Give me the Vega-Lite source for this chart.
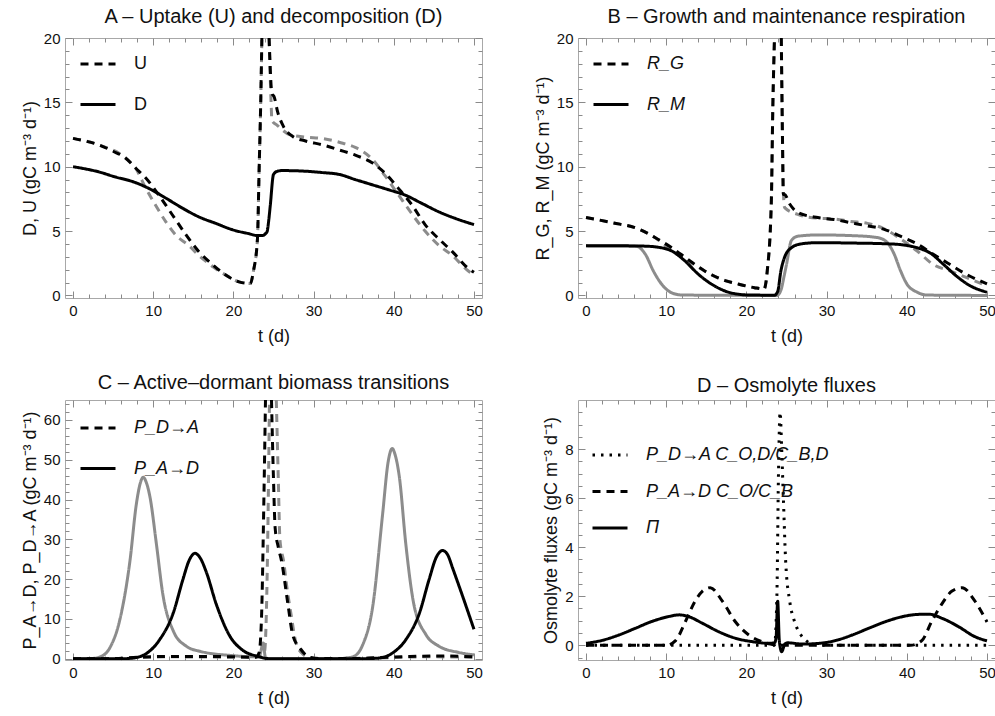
{
  "$schema": "https://vega.github.io/schema/vega-lite/v6.json",
  "background": "white",
  "padding": {"left": 20, "top": 6, "right": 0, "bottom": 0},
  "resolve": {"scale": {"strokeDash": "independent"}, "legend": {"strokeDash": "independent"}},
  "config": {
    "font": "Liberation Sans",
    "view": {"stroke": "#a8a8a8", "strokeWidth": 1},
    "axis": {"labelFontSize": 15, "titleFontSize": 18, "titleFontWeight": "normal", "labelColor": "#111", "titleColor": "#111", "grid": false, "domain": false, "tickColor": "#8a8a8a", "tickWidth": 1, "labelFlush": false, "labelOverlap": false, "labelPadding": 12},
    "axisX": {"titlePadding": 6},
    "axisY": {"titlePadding": 4},
    "line": {"interpolate": "monotone", "strokeWidth": 3},
    "title": {"fontSize": 20, "fontWeight": "normal", "anchor": "middle", "frame": "group", "offset": 4, "color": "#111"},
    "legend": {"symbolType": "stroke", "symbolSize": 1225, "symbolStrokeWidth": 3, "symbolStrokeColor": "black", "labelFontSize": 18, "labelOffset": 17, "rowPadding": 12.5, "padding": 0, "labelColor": "#111", "labelLimit": 400}
  },
  "datasets": {
    "A": [
      {"t":0,"v":12.2,"var":"U","case":"1","seg":"a"},{"t":1.5,"v":12.0,"var":"U","case":"1","seg":"a"},{"t":3.2,"v":11.7,"var":"U","case":"1","seg":"a"},{"t":5,"v":11.2,"var":"U","case":"1","seg":"a"},{"t":6.5,"v":10.7,"var":"U","case":"1","seg":"a"},{"t":7.8,"v":9.9,"var":"U","case":"1","seg":"a"},{"t":9.1,"v":9.1,"var":"U","case":"1","seg":"a"},{"t":10.7,"v":7.8,"var":"U","case":"1","seg":"a"},{"t":12.4,"v":6.25,"var":"U","case":"1","seg":"a"},{"t":14.1,"v":4.7,"var":"U","case":"1","seg":"a"},{"t":15.7,"v":3.4,"var":"U","case":"1","seg":"a"},{"t":17.4,"v":2.4,"var":"U","case":"1","seg":"a"},{"t":19,"v":1.6,"var":"U","case":"1","seg":"a"},{"t":20.7,"v":1.05,"var":"U","case":"1","seg":"a"},{"t":22.1,"v":0.93,"var":"U","case":"1","seg":"a"},{"t":22.5,"v":1.9,"var":"U","case":"1","seg":"a"},{"t":23,"v":4.4,"var":"U","case":"1","seg":"a"},{"t":23.2,"v":9.6,"var":"U","case":"1","seg":"a"},{"t":23.4,"v":14.8,"var":"U","case":"1","seg":"a"},{"t":23.55,"v":20,"var":"U","case":"1","seg":"a"},
      {"t":24.45,"v":20,"var":"U","case":"1","seg":"b"},{"t":24.8,"v":15.7,"var":"U","case":"1","seg":"b"},{"t":25.1,"v":15.4,"var":"U","case":"1","seg":"b"},{"t":25.5,"v":14.3,"var":"U","case":"1","seg":"b"},{"t":26.1,"v":13.3,"var":"U","case":"1","seg":"b"},{"t":27.4,"v":12.35,"var":"U","case":"1","seg":"b"},{"t":29,"v":12.0,"var":"U","case":"1","seg":"b"},{"t":31.1,"v":11.7,"var":"U","case":"1","seg":"b"},{"t":33.2,"v":11.3,"var":"U","case":"1","seg":"b"},{"t":35.2,"v":10.9,"var":"U","case":"1","seg":"b"},{"t":37.3,"v":10.3,"var":"U","case":"1","seg":"b"},{"t":38.9,"v":9.5,"var":"U","case":"1","seg":"b"},{"t":40.6,"v":8.3,"var":"U","case":"1","seg":"b"},{"t":42.3,"v":7.0,"var":"U","case":"1","seg":"b"},{"t":43.9,"v":5.5,"var":"U","case":"1","seg":"b"},{"t":45.6,"v":4.4,"var":"U","case":"1","seg":"b"},{"t":47.3,"v":3.4,"var":"U","case":"1","seg":"b"},{"t":49.3,"v":2.1,"var":"U","case":"1","seg":"b"},{"t":50,"v":1.8,"var":"U","case":"1","seg":"b"},
      {"t":0,"v":12.2,"var":"U","case":"2","seg":"a"},{"t":3.2,"v":11.7,"var":"U","case":"2","seg":"a"},{"t":6.5,"v":10.7,"var":"U","case":"2","seg":"a"},{"t":7.8,"v":9.9,"var":"U","case":"2","seg":"a"},{"t":9.1,"v":8.3,"var":"U","case":"2","seg":"a"},{"t":10.3,"v":7.0,"var":"U","case":"2","seg":"a"},{"t":11.6,"v":5.7,"var":"U","case":"2","seg":"a"},{"t":12.8,"v":4.7,"var":"U","case":"2","seg":"a"},{"t":14.4,"v":3.9,"var":"U","case":"2","seg":"a"},{"t":15.7,"v":3.1,"var":"U","case":"2","seg":"a"},{"t":16.9,"v":2.5,"var":"U","case":"2","seg":"a"},{"t":17.5,"v":2.2,"var":"U","case":"2","seg":"a"},{"t":19,"v":1.6,"var":"U","case":"2","seg":"a"},{"t":20.7,"v":1.05,"var":"U","case":"2","seg":"a"},{"t":22.1,"v":0.93,"var":"U","case":"2","seg":"a"},{"t":22.5,"v":1.9,"var":"U","case":"2","seg":"a"},{"t":23,"v":4.4,"var":"U","case":"2","seg":"a"},{"t":23.2,"v":9.6,"var":"U","case":"2","seg":"a"},{"t":23.4,"v":14.8,"var":"U","case":"2","seg":"a"},{"t":23.55,"v":20,"var":"U","case":"2","seg":"a"},
      {"t":24.45,"v":20,"var":"U","case":"2","seg":"b"},{"t":24.7,"v":15,"var":"U","case":"2","seg":"b"},{"t":24.8,"v":13.6,"var":"U","case":"2","seg":"b"},{"t":25.5,"v":13.2,"var":"U","case":"2","seg":"b"},{"t":27,"v":12.5,"var":"U","case":"2","seg":"b"},{"t":29,"v":12.3,"var":"U","case":"2","seg":"b"},{"t":31.1,"v":12.2,"var":"U","case":"2","seg":"b"},{"t":33.2,"v":11.9,"var":"U","case":"2","seg":"b"},{"t":35.2,"v":11.5,"var":"U","case":"2","seg":"b"},{"t":37.3,"v":10.6,"var":"U","case":"2","seg":"b"},{"t":38.9,"v":9.3,"var":"U","case":"2","seg":"b"},{"t":40.6,"v":7.8,"var":"U","case":"2","seg":"b"},{"t":42.3,"v":6.3,"var":"U","case":"2","seg":"b"},{"t":43.9,"v":5.0,"var":"U","case":"2","seg":"b"},{"t":45.6,"v":3.9,"var":"U","case":"2","seg":"b"},{"t":47.3,"v":3.1,"var":"U","case":"2","seg":"b"},{"t":49.3,"v":1.9,"var":"U","case":"2","seg":"b"},{"t":50,"v":1.6,"var":"U","case":"2","seg":"b"},
      {"t":0,"v":10.0,"var":"D","case":"1","seg":"a"},{"t":3.2,"v":9.6,"var":"D","case":"1","seg":"a"},{"t":5.3,"v":9.2,"var":"D","case":"1","seg":"a"},{"t":7.4,"v":8.85,"var":"D","case":"1","seg":"a"},{"t":9.5,"v":8.3,"var":"D","case":"1","seg":"a"},{"t":11.6,"v":7.55,"var":"D","case":"1","seg":"a"},{"t":13.6,"v":6.8,"var":"D","case":"1","seg":"a"},{"t":15.7,"v":6.1,"var":"D","case":"1","seg":"a"},{"t":17.8,"v":5.6,"var":"D","case":"1","seg":"a"},{"t":19.9,"v":5.1,"var":"D","case":"1","seg":"a"},{"t":21.9,"v":4.8,"var":"D","case":"1","seg":"a"},{"t":23.0,"v":4.65,"var":"D","case":"1","seg":"a"},{"t":23.6,"v":4.65,"var":"D","case":"1","seg":"a"},{"t":24.0,"v":4.8,"var":"D","case":"1","seg":"a"},{"t":24.2,"v":4.95,"var":"D","case":"1","seg":"a"},{"t":24.4,"v":5.8,"var":"D","case":"1","seg":"a"},{"t":24.6,"v":7.0,"var":"D","case":"1","seg":"a"},{"t":25.0,"v":9.4,"var":"D","case":"1","seg":"a"},{"t":25.5,"v":9.65,"var":"D","case":"1","seg":"a"},{"t":26.1,"v":9.7,"var":"D","case":"1","seg":"a"},{"t":29,"v":9.65,"var":"D","case":"1","seg":"a"},{"t":31,"v":9.55,"var":"D","case":"1","seg":"a"},{"t":33.2,"v":9.4,"var":"D","case":"1","seg":"a"},{"t":35.2,"v":9.0,"var":"D","case":"1","seg":"a"},{"t":37.3,"v":8.6,"var":"D","case":"1","seg":"a"},{"t":39.4,"v":8.2,"var":"D","case":"1","seg":"a"},{"t":41.4,"v":7.8,"var":"D","case":"1","seg":"a"},{"t":43.5,"v":7.15,"var":"D","case":"1","seg":"a"},{"t":45.6,"v":6.5,"var":"D","case":"1","seg":"a"},{"t":47.6,"v":6.0,"var":"D","case":"1","seg":"a"},{"t":50,"v":5.5,"var":"D","case":"1","seg":"a"}
    ],
    "B": [
      {"t":0,"v":6.05,"var":"R_G","case":"1","seg":"a"},{"t":3.3,"v":5.65,"var":"R_G","case":"1","seg":"a"},{"t":6.6,"v":5.15,"var":"R_G","case":"1","seg":"a"},{"t":8.6,"v":4.5,"var":"R_G","case":"1","seg":"a"},{"t":10.7,"v":3.7,"var":"R_G","case":"1","seg":"a"},{"t":12.7,"v":2.8,"var":"R_G","case":"1","seg":"a"},{"t":14.8,"v":1.9,"var":"R_G","case":"1","seg":"a"},{"t":16.9,"v":1.25,"var":"R_G","case":"1","seg":"a"},{"t":18.9,"v":0.9,"var":"R_G","case":"1","seg":"a"},{"t":21,"v":0.6,"var":"R_G","case":"1","seg":"a"},{"t":22.2,"v":0.5,"var":"R_G","case":"1","seg":"a"},{"t":22.6,"v":1.9,"var":"R_G","case":"1","seg":"a"},{"t":23.1,"v":7.1,"var":"R_G","case":"1","seg":"a"},{"t":23.3,"v":14.8,"var":"R_G","case":"1","seg":"a"},{"t":23.5,"v":20,"var":"R_G","case":"1","seg":"a"},
      {"t":24.35,"v":20,"var":"R_G","case":"1","seg":"b"},{"t":24.5,"v":12.2,"var":"R_G","case":"1","seg":"b"},{"t":24.6,"v":7.85,"var":"R_G","case":"1","seg":"b"},{"t":24.75,"v":7.85,"var":"R_G","case":"1","seg":"b"},{"t":25.4,"v":7.1,"var":"R_G","case":"1","seg":"b"},{"t":26.4,"v":6.45,"var":"R_G","case":"1","seg":"b"},{"t":28.9,"v":6.05,"var":"R_G","case":"1","seg":"b"},{"t":30.9,"v":5.9,"var":"R_G","case":"1","seg":"b"},{"t":33,"v":5.65,"var":"R_G","case":"1","seg":"b"},{"t":35.1,"v":5.4,"var":"R_G","case":"1","seg":"b"},{"t":37.1,"v":5.15,"var":"R_G","case":"1","seg":"b"},{"t":39.2,"v":4.6,"var":"R_G","case":"1","seg":"b"},{"t":41.3,"v":4.0,"var":"R_G","case":"1","seg":"b"},{"t":43.3,"v":3.2,"var":"R_G","case":"1","seg":"b"},{"t":45.4,"v":2.4,"var":"R_G","case":"1","seg":"b"},{"t":47.4,"v":1.65,"var":"R_G","case":"1","seg":"b"},{"t":50,"v":0.9,"var":"R_G","case":"1","seg":"b"},
      {"t":0,"v":6.05,"var":"R_G","case":"2","seg":"a"},{"t":3.3,"v":5.65,"var":"R_G","case":"2","seg":"a"},{"t":6.6,"v":5.15,"var":"R_G","case":"2","seg":"a"},{"t":8.6,"v":4.5,"var":"R_G","case":"2","seg":"a"},{"t":10.7,"v":3.45,"var":"R_G","case":"2","seg":"a"},{"t":12.7,"v":2.7,"var":"R_G","case":"2","seg":"a"},{"t":14.8,"v":1.9,"var":"R_G","case":"2","seg":"a"},{"t":16.9,"v":1.25,"var":"R_G","case":"2","seg":"a"},{"t":18.9,"v":0.9,"var":"R_G","case":"2","seg":"a"},{"t":21,"v":0.6,"var":"R_G","case":"2","seg":"a"},{"t":22.2,"v":0.5,"var":"R_G","case":"2","seg":"a"},{"t":22.6,"v":1.9,"var":"R_G","case":"2","seg":"a"},{"t":23.1,"v":7.1,"var":"R_G","case":"2","seg":"a"},{"t":23.3,"v":14.8,"var":"R_G","case":"2","seg":"a"},{"t":23.5,"v":20,"var":"R_G","case":"2","seg":"a"},
      {"t":24.35,"v":20,"var":"R_G","case":"2","seg":"b"},{"t":24.5,"v":12,"var":"R_G","case":"2","seg":"b"},{"t":24.7,"v":7,"var":"R_G","case":"2","seg":"b"},{"t":24.8,"v":6.8,"var":"R_G","case":"2","seg":"b"},{"t":26.4,"v":6.3,"var":"R_G","case":"2","seg":"b"},{"t":28.9,"v":6.0,"var":"R_G","case":"2","seg":"b"},{"t":30.9,"v":5.95,"var":"R_G","case":"2","seg":"b"},{"t":33,"v":5.75,"var":"R_G","case":"2","seg":"b"},{"t":35.1,"v":5.6,"var":"R_G","case":"2","seg":"b"},{"t":37.1,"v":5.2,"var":"R_G","case":"2","seg":"b"},{"t":39.2,"v":4.4,"var":"R_G","case":"2","seg":"b"},{"t":41.3,"v":3.45,"var":"R_G","case":"2","seg":"b"},{"t":43.3,"v":2.4,"var":"R_G","case":"2","seg":"b"},{"t":45.4,"v":1.9,"var":"R_G","case":"2","seg":"b"},{"t":47.4,"v":1.4,"var":"R_G","case":"2","seg":"b"},{"t":50,"v":0.75,"var":"R_G","case":"2","seg":"b"},
      {"t":0,"v":3.85,"var":"R_M","case":"1","seg":"a"},{"t":5,"v":3.85,"var":"R_M","case":"1","seg":"a"},{"t":7.3,"v":3.83,"var":"R_M","case":"1","seg":"a"},{"t":9.4,"v":3.7,"var":"R_M","case":"1","seg":"a"},{"t":10.7,"v":3.45,"var":"R_M","case":"1","seg":"a"},{"t":12.3,"v":2.7,"var":"R_M","case":"1","seg":"a"},{"t":14,"v":1.65,"var":"R_M","case":"1","seg":"a"},{"t":15.6,"v":0.9,"var":"R_M","case":"1","seg":"a"},{"t":17.3,"v":0.35,"var":"R_M","case":"1","seg":"a"},{"t":18.9,"v":0.1,"var":"R_M","case":"1","seg":"a"},{"t":20.5,"v":0.03,"var":"R_M","case":"1","seg":"a"},{"t":23.5,"v":0.02,"var":"R_M","case":"1","seg":"a"},{"t":23.9,"v":0.3,"var":"R_M","case":"1","seg":"a"},{"t":24.3,"v":1.9,"var":"R_M","case":"1","seg":"a"},{"t":24.75,"v":2.95,"var":"R_M","case":"1","seg":"a"},{"t":25.6,"v":3.7,"var":"R_M","case":"1","seg":"a"},{"t":26.8,"v":4.0,"var":"R_M","case":"1","seg":"a"},{"t":28.9,"v":4.1,"var":"R_M","case":"1","seg":"a"},{"t":33,"v":4.07,"var":"R_M","case":"1","seg":"a"},{"t":37.1,"v":4.02,"var":"R_M","case":"1","seg":"a"},{"t":39.2,"v":3.95,"var":"R_M","case":"1","seg":"a"},{"t":41.3,"v":3.7,"var":"R_M","case":"1","seg":"a"},{"t":42.9,"v":3.3,"var":"R_M","case":"1","seg":"a"},{"t":44.6,"v":2.4,"var":"R_M","case":"1","seg":"a"},{"t":46.2,"v":1.5,"var":"R_M","case":"1","seg":"a"},{"t":47.9,"v":0.75,"var":"R_M","case":"1","seg":"a"},{"t":50,"v":0.25,"var":"R_M","case":"1","seg":"a"},
      {"t":0,"v":3.85,"var":"R_M","case":"2","seg":"a"},{"t":6.2,"v":3.83,"var":"R_M","case":"2","seg":"a"},{"t":7.4,"v":3.2,"var":"R_M","case":"2","seg":"a"},{"t":8.4,"v":1.9,"var":"R_M","case":"2","seg":"a"},{"t":9.4,"v":0.9,"var":"R_M","case":"2","seg":"a"},{"t":10.7,"v":0.2,"var":"R_M","case":"2","seg":"a"},{"t":12,"v":0.03,"var":"R_M","case":"2","seg":"a"},{"t":23.8,"v":0.0,"var":"R_M","case":"2","seg":"a"},{"t":24.3,"v":0.4,"var":"R_M","case":"2","seg":"a"},{"t":24.7,"v":1.5,"var":"R_M","case":"2","seg":"a"},{"t":25.0,"v":2.4,"var":"R_M","case":"2","seg":"a"},{"t":25.6,"v":4.25,"var":"R_M","case":"2","seg":"a"},{"t":26.4,"v":4.6,"var":"R_M","case":"2","seg":"a"},{"t":28.9,"v":4.7,"var":"R_M","case":"2","seg":"a"},{"t":33,"v":4.65,"var":"R_M","case":"2","seg":"a"},{"t":36.3,"v":4.5,"var":"R_M","case":"2","seg":"a"},{"t":37.5,"v":4.15,"var":"R_M","case":"2","seg":"a"},{"t":38.4,"v":3.25,"var":"R_M","case":"2","seg":"a"},{"t":39.2,"v":1.95,"var":"R_M","case":"2","seg":"a"},{"t":40,"v":0.9,"var":"R_M","case":"2","seg":"a"},{"t":41.3,"v":0.25,"var":"R_M","case":"2","seg":"a"},{"t":42.5,"v":0.03,"var":"R_M","case":"2","seg":"a"},{"t":50,"v":0.0,"var":"R_M","case":"2","seg":"a"}
    ],
    "C": [
      {"t":0,"v":0,"var":"P_D→A","case":"1","seg":"a"},{"t":5,"v":0.05,"var":"P_D→A","case":"1","seg":"a"},{"t":8,"v":0.4,"var":"P_D→A","case":"1","seg":"a"},{"t":12,"v":0.6,"var":"P_D→A","case":"1","seg":"a"},{"t":16,"v":0.6,"var":"P_D→A","case":"1","seg":"a"},{"t":20,"v":0.5,"var":"P_D→A","case":"1","seg":"a"},{"t":22.8,"v":0.4,"var":"P_D→A","case":"1","seg":"a"},{"t":23.2,"v":1.5,"var":"P_D→A","case":"1","seg":"a"},{"t":23.5,"v":10,"var":"P_D→A","case":"1","seg":"a"},{"t":23.8,"v":40,"var":"P_D→A","case":"1","seg":"a"},{"t":24.0,"v":65,"var":"P_D→A","case":"1","seg":"a"},
      {"t":24.75,"v":65,"var":"P_D→A","case":"1","seg":"b"},{"t":25.0,"v":45,"var":"P_D→A","case":"1","seg":"b"},{"t":25.2,"v":33,"var":"P_D→A","case":"1","seg":"b"},{"t":25.6,"v":28,"var":"P_D→A","case":"1","seg":"b"},{"t":26.0,"v":24.6,"var":"P_D→A","case":"1","seg":"b"},{"t":26.8,"v":13.7,"var":"P_D→A","case":"1","seg":"b"},{"t":27.4,"v":6.0,"var":"P_D→A","case":"1","seg":"b"},{"t":28.4,"v":2.4,"var":"P_D→A","case":"1","seg":"b"},{"t":29.5,"v":0.4,"var":"P_D→A","case":"1","seg":"b"},{"t":31,"v":0.05,"var":"P_D→A","case":"1","seg":"b"},{"t":35,"v":0.05,"var":"P_D→A","case":"1","seg":"b"},{"t":38,"v":0.3,"var":"P_D→A","case":"1","seg":"b"},{"t":42,"v":0.6,"var":"P_D→A","case":"1","seg":"b"},{"t":46,"v":0.7,"var":"P_D→A","case":"1","seg":"b"},{"t":50,"v":0.5,"var":"P_D→A","case":"1","seg":"b"},
      {"t":0,"v":0,"var":"P_D→A","case":"2","seg":"a"},{"t":5,"v":0.05,"var":"P_D→A","case":"2","seg":"a"},{"t":8,"v":0.3,"var":"P_D→A","case":"2","seg":"a"},{"t":12,"v":0.5,"var":"P_D→A","case":"2","seg":"a"},{"t":20,"v":0.4,"var":"P_D→A","case":"2","seg":"a"},{"t":23.5,"v":0.4,"var":"P_D→A","case":"2","seg":"a"},{"t":23.9,"v":2,"var":"P_D→A","case":"2","seg":"a"},{"t":24.2,"v":20,"var":"P_D→A","case":"2","seg":"a"},{"t":24.4,"v":48,"var":"P_D→A","case":"2","seg":"a"},{"t":24.5,"v":65,"var":"P_D→A","case":"2","seg":"a"},
      {"t":25.35,"v":65,"var":"P_D→A","case":"2","seg":"b"},{"t":25.6,"v":45,"var":"P_D→A","case":"2","seg":"b"},{"t":25.8,"v":30,"var":"P_D→A","case":"2","seg":"b"},{"t":26.3,"v":24,"var":"P_D→A","case":"2","seg":"b"},{"t":26.6,"v":19,"var":"P_D→A","case":"2","seg":"b"},{"t":27.2,"v":11,"var":"P_D→A","case":"2","seg":"b"},{"t":27.8,"v":4,"var":"P_D→A","case":"2","seg":"b"},{"t":28.5,"v":1.5,"var":"P_D→A","case":"2","seg":"b"},{"t":29.3,"v":0.5,"var":"P_D→A","case":"2","seg":"b"},{"t":31,"v":0.05,"var":"P_D→A","case":"2","seg":"b"},{"t":38,"v":0.2,"var":"P_D→A","case":"2","seg":"b"},{"t":44,"v":0.5,"var":"P_D→A","case":"2","seg":"b"},{"t":50,"v":0.4,"var":"P_D→A","case":"2","seg":"b"},
      {"t":0,"v":0,"var":"P_A→D","case":"1","seg":"a"},{"t":6,"v":0,"var":"P_A→D","case":"1","seg":"a"},{"t":7.5,"v":0.2,"var":"P_A→D","case":"1","seg":"a"},{"t":9.2,"v":1.4,"var":"P_A→D","case":"1","seg":"a"},{"t":10.8,"v":4.8,"var":"P_A→D","case":"1","seg":"a"},{"t":12.5,"v":11.5,"var":"P_A→D","case":"1","seg":"a"},{"t":13.7,"v":19.9,"var":"P_A→D","case":"1","seg":"a"},{"t":14.5,"v":24.8,"var":"P_A→D","case":"1","seg":"a"},{"t":15.2,"v":26.5,"var":"P_A→D","case":"1","seg":"a"},{"t":15.9,"v":25.2,"var":"P_A→D","case":"1","seg":"a"},{"t":16.6,"v":21.9,"var":"P_A→D","case":"1","seg":"a"},{"t":17.9,"v":13.5,"var":"P_A→D","case":"1","seg":"a"},{"t":19.5,"v":5.9,"var":"P_A→D","case":"1","seg":"a"},{"t":21.2,"v":2.1,"var":"P_A→D","case":"1","seg":"a"},{"t":23.3,"v":0.5,"var":"P_A→D","case":"1","seg":"a"},{"t":24,"v":0.1,"var":"P_A→D","case":"1","seg":"a"},{"t":25,"v":0,"var":"P_A→D","case":"1","seg":"a"},{"t":36,"v":0,"var":"P_A→D","case":"1","seg":"a"},{"t":38.2,"v":0.2,"var":"P_A→D","case":"1","seg":"a"},{"t":39.8,"v":1.4,"var":"P_A→D","case":"1","seg":"a"},{"t":41.5,"v":4.8,"var":"P_A→D","case":"1","seg":"a"},{"t":43.2,"v":11.5,"var":"P_A→D","case":"1","seg":"a"},{"t":44.4,"v":19.9,"var":"P_A→D","case":"1","seg":"a"},{"t":45.3,"v":25.5,"var":"P_A→D","case":"1","seg":"a"},{"t":46.1,"v":27.2,"var":"P_A→D","case":"1","seg":"a"},{"t":46.8,"v":25.8,"var":"P_A→D","case":"1","seg":"a"},{"t":47.3,"v":23,"var":"P_A→D","case":"1","seg":"a"},{"t":48.5,"v":16.2,"var":"P_A→D","case":"1","seg":"a"},{"t":50,"v":7.4,"var":"P_A→D","case":"1","seg":"a"},
      {"t":0,"v":0,"var":"P_A→D","case":"2","seg":"a"},{"t":2.5,"v":0.1,"var":"P_A→D","case":"2","seg":"a"},{"t":3.4,"v":0.5,"var":"P_A→D","case":"2","seg":"a"},{"t":4.6,"v":2.8,"var":"P_A→D","case":"2","seg":"a"},{"t":5.8,"v":9.5,"var":"P_A→D","case":"2","seg":"a"},{"t":7.1,"v":24.6,"var":"P_A→D","case":"2","seg":"a"},{"t":7.9,"v":38.9,"var":"P_A→D","case":"2","seg":"a"},{"t":8.4,"v":44.2,"var":"P_A→D","case":"2","seg":"a"},{"t":8.75,"v":45.6,"var":"P_A→D","case":"2","seg":"a"},{"t":9.1,"v":44.5,"var":"P_A→D","case":"2","seg":"a"},{"t":9.6,"v":40.6,"var":"P_A→D","case":"2","seg":"a"},{"t":10.4,"v":28.8,"var":"P_A→D","case":"2","seg":"a"},{"t":11.2,"v":16.2,"var":"P_A→D","case":"2","seg":"a"},{"t":12.5,"v":7.0,"var":"P_A→D","case":"2","seg":"a"},{"t":14.1,"v":3.2,"var":"P_A→D","case":"2","seg":"a"},{"t":15.8,"v":1.9,"var":"P_A→D","case":"2","seg":"a"},{"t":19.9,"v":0.8,"var":"P_A→D","case":"2","seg":"a"},{"t":22.8,"v":0.5,"var":"P_A→D","case":"2","seg":"a"},{"t":23.3,"v":1.0,"var":"P_A→D","case":"2","seg":"a"},{"t":23.7,"v":4.0,"var":"P_A→D","case":"2","seg":"a"},{"t":24.0,"v":0.3,"var":"P_A→D","case":"2","seg":"a"},{"t":24.5,"v":0,"var":"P_A→D","case":"2","seg":"a"},{"t":33,"v":0,"var":"P_A→D","case":"2","seg":"a"},{"t":34,"v":0.2,"var":"P_A→D","case":"2","seg":"a"},{"t":34.9,"v":0.5,"var":"P_A→D","case":"2","seg":"a"},{"t":36.1,"v":3.4,"var":"P_A→D","case":"2","seg":"a"},{"t":37.4,"v":13.5,"var":"P_A→D","case":"2","seg":"a"},{"t":38.6,"v":36.2,"var":"P_A→D","case":"2","seg":"a"},{"t":39.3,"v":49.5,"var":"P_A→D","case":"2","seg":"a"},{"t":39.8,"v":52.8,"var":"P_A→D","case":"2","seg":"a"},{"t":40.2,"v":51.0,"var":"P_A→D","case":"2","seg":"a"},{"t":40.7,"v":45.6,"var":"P_A→D","case":"2","seg":"a"},{"t":41.5,"v":28.8,"var":"P_A→D","case":"2","seg":"a"},{"t":42.5,"v":13.7,"var":"P_A→D","case":"2","seg":"a"},{"t":44,"v":6.1,"var":"P_A→D","case":"2","seg":"a"},{"t":45.6,"v":3.2,"var":"P_A→D","case":"2","seg":"a"},{"t":48.1,"v":1.6,"var":"P_A→D","case":"2","seg":"a"},{"t":50,"v":1.0,"var":"P_A→D","case":"2","seg":"a"}
    ],
    "D": [
      {"t":0,"v":0,"var":"P_D→A C_O,D/C_B,D","case":"1","seg":"a"},{"t":23.5,"v":0,"var":"P_D→A C_O,D/C_B,D","case":"1","seg":"a"},{"t":23.8,"v":2,"var":"P_D→A C_O,D/C_B,D","case":"1","seg":"a"},{"t":24.0,"v":7,"var":"P_D→A C_O,D/C_B,D","case":"1","seg":"a"},{"t":24.2,"v":9.5,"var":"P_D→A C_O,D/C_B,D","case":"1","seg":"a"},{"t":24.4,"v":8,"var":"P_D→A C_O,D/C_B,D","case":"1","seg":"a"},{"t":24.6,"v":6.1,"var":"P_D→A C_O,D/C_B,D","case":"1","seg":"a"},{"t":24.9,"v":3.4,"var":"P_D→A C_O,D/C_B,D","case":"1","seg":"a"},{"t":25.4,"v":1.8,"var":"P_D→A C_O,D/C_B,D","case":"1","seg":"a"},{"t":26,"v":0.97,"var":"P_D→A C_O,D/C_B,D","case":"1","seg":"a"},{"t":26.8,"v":0.42,"var":"P_D→A C_O,D/C_B,D","case":"1","seg":"a"},{"t":27.6,"v":0.15,"var":"P_D→A C_O,D/C_B,D","case":"1","seg":"a"},{"t":28.5,"v":0.03,"var":"P_D→A C_O,D/C_B,D","case":"1","seg":"a"},{"t":30,"v":0,"var":"P_D→A C_O,D/C_B,D","case":"1","seg":"a"},{"t":50,"v":0,"var":"P_D→A C_O,D/C_B,D","case":"1","seg":"a"},
      {"t":0,"v":0,"var":"P_A→D C_O/C_B","case":"1","seg":"a"},{"t":10,"v":0,"var":"P_A→D C_O/C_B","case":"1","seg":"a"},{"t":11.2,"v":0.2,"var":"P_A→D C_O/C_B","case":"1","seg":"a"},{"t":12.4,"v":0.97,"var":"P_A→D C_O/C_B","case":"1","seg":"a"},{"t":13.6,"v":1.8,"var":"P_A→D C_O/C_B","case":"1","seg":"a"},{"t":14.5,"v":2.2,"var":"P_A→D C_O/C_B","case":"1","seg":"a"},{"t":15.5,"v":2.35,"var":"P_A→D C_O/C_B","case":"1","seg":"a"},{"t":17,"v":1.8,"var":"P_A→D C_O/C_B","case":"1","seg":"a"},{"t":18.6,"v":0.97,"var":"P_A→D C_O/C_B","case":"1","seg":"a"},{"t":20.3,"v":0.42,"var":"P_A→D C_O/C_B","case":"1","seg":"a"},{"t":21.9,"v":0.15,"var":"P_A→D C_O/C_B","case":"1","seg":"a"},{"t":23,"v":0.05,"var":"P_A→D C_O/C_B","case":"1","seg":"a"},{"t":24,"v":0,"var":"P_A→D C_O/C_B","case":"1","seg":"a"},{"t":40.5,"v":0,"var":"P_A→D C_O/C_B","case":"1","seg":"a"},{"t":41.9,"v":0.2,"var":"P_A→D C_O/C_B","case":"1","seg":"a"},{"t":43.1,"v":0.97,"var":"P_A→D C_O/C_B","case":"1","seg":"a"},{"t":44.4,"v":1.7,"var":"P_A→D C_O/C_B","case":"1","seg":"a"},{"t":45.6,"v":2.2,"var":"P_A→D C_O/C_B","case":"1","seg":"a"},{"t":46.9,"v":2.35,"var":"P_A→D C_O/C_B","case":"1","seg":"a"},{"t":48.5,"v":1.8,"var":"P_A→D C_O/C_B","case":"1","seg":"a"},{"t":50,"v":0.95,"var":"P_A→D C_O/C_B","case":"1","seg":"a"},
      {"t":0,"v":0.08,"var":"Π","case":"1","seg":"a"},{"t":2,"v":0.2,"var":"Π","case":"1","seg":"a"},{"t":4.1,"v":0.42,"var":"Π","case":"1","seg":"a"},{"t":6.2,"v":0.7,"var":"Π","case":"1","seg":"a"},{"t":8.2,"v":0.97,"var":"Π","case":"1","seg":"a"},{"t":10.3,"v":1.17,"var":"Π","case":"1","seg":"a"},{"t":11.6,"v":1.24,"var":"Π","case":"1","seg":"a"},{"t":12.8,"v":1.17,"var":"Π","case":"1","seg":"a"},{"t":14.5,"v":0.9,"var":"Π","case":"1","seg":"a"},{"t":16.5,"v":0.56,"var":"Π","case":"1","seg":"a"},{"t":18.6,"v":0.29,"var":"Π","case":"1","seg":"a"},{"t":20.7,"v":0.15,"var":"Π","case":"1","seg":"a"},{"t":22.8,"v":0.08,"var":"Π","case":"1","seg":"a"},{"t":23.5,"v":0.1,"var":"Π","case":"1","seg":"a"},{"t":23.7,"v":0.3,"var":"Π","case":"1","seg":"a"},{"t":23.9,"v":1.8,"var":"Π","case":"1","seg":"a"},{"t":24.1,"v":0.2,"var":"Π","case":"1","seg":"a"},{"t":24.4,"v":-0.26,"var":"Π","case":"1","seg":"a"},{"t":24.8,"v":0.05,"var":"Π","case":"1","seg":"a"},{"t":25.2,"v":0.1,"var":"Π","case":"1","seg":"a"},{"t":27,"v":0.05,"var":"Π","case":"1","seg":"a"},{"t":29.1,"v":0.08,"var":"Π","case":"1","seg":"a"},{"t":31.2,"v":0.2,"var":"Π","case":"1","seg":"a"},{"t":33.2,"v":0.42,"var":"Π","case":"1","seg":"a"},{"t":35.3,"v":0.7,"var":"Π","case":"1","seg":"a"},{"t":37.4,"v":0.97,"var":"Π","case":"1","seg":"a"},{"t":39.5,"v":1.17,"var":"Π","case":"1","seg":"a"},{"t":41,"v":1.25,"var":"Π","case":"1","seg":"a"},{"t":42.7,"v":1.27,"var":"Π","case":"1","seg":"a"},{"t":44.4,"v":1.1,"var":"Π","case":"1","seg":"a"},{"t":46.5,"v":0.75,"var":"Π","case":"1","seg":"a"},{"t":48.5,"v":0.35,"var":"Π","case":"1","seg":"a"},{"t":50,"v":0.18,"var":"Π","case":"1","seg":"a"}
    ]
  },
  "concat": [
    {
      "width": 417, "height": 260,
      "title": "A – Uptake (U) and decomposition (D)",
      "data": {"name": "A"},
      "resolve": {"axis": {"x": "independent", "y": "independent"}},
      "encoding": {
        "x": {"field": "t", "type": "quantitative", "scale": {"domain": [-1, 51], "nice": false, "zero": false}},
        "y": {"field": "v", "type": "quantitative", "scale": {"domain": [-0.2, 20], "nice": false, "zero": false}},
        "color": {"field": "case", "type": "nominal", "scale": {"domain": ["1", "2"], "range": ["#000000", "#8c8c8c"]}, "legend": null},
        "strokeDash": {"field": "var", "type": "nominal", "scale": {"domain": ["U", "D"], "range": [[8, 6], [1, 0]]}, "legend": {"orient": "none", "legendX": 14, "legendY": 7, "title": null}},
        "detail": {"field": "seg", "type": "nominal"}
      },
      "layer": [
        {"transform": [{"filter": "datum.case === '2'"}], "mark": {"type": "line", "clip": true},
         "encoding": {
           "x": {"field": "t", "type": "quantitative", "axis": {"title": "t (d)", "values": [0,2,4,6,8,10,12,14,16,18,20,22,24,26,28,30,32,34,36,38,40,42,44,46,48,50], "labelExpr": "datum.value % 10 === 0 ? datum.label : ''", "tickSize": {"condition": {"test": "datum.value % 10 === 0", "value": -7}, "value": -4}}},
           "y": {"field": "v", "type": "quantitative", "axis": {"title": "D, U (gC m⁻³ d⁻¹)", "values": [0,1,2,3,4,5,6,7,8,9,10,11,12,13,14,15,16,17,18,19,20], "labelExpr": "datum.value % 5 === 0 ? datum.label : ''", "tickSize": {"condition": {"test": "datum.value % 5 === 0", "value": -7}, "value": -4}}}
         }},
        {"transform": [{"filter": "datum.case === '1'"}], "mark": {"type": "line", "clip": true},
         "encoding": {"x": {"field": "t", "type": "quantitative", "axis": null}, "y": {"field": "v", "type": "quantitative", "axis": null}}},
        {"mark": {"type": "point", "opacity": 0},
         "encoding": {
           "x": {"field": "t", "type": "quantitative", "axis": {"orient": "top", "labels": false, "title": null, "values": [0,2,4,6,8,10,12,14,16,18,20,22,24,26,28,30,32,34,36,38,40,42,44,46,48,50], "tickSize": {"condition": {"test": "datum.value % 10 === 0", "value": -7}, "value": -4}}},
           "y": {"field": "v", "type": "quantitative", "axis": {"orient": "right", "labels": false, "title": null, "values": [0,1,2,3,4,5,6,7,8,9,10,11,12,13,14,15,16,17,18,19,20], "tickSize": {"condition": {"test": "datum.value % 5 === 0", "value": -7}, "value": -4}}},
           "color": {"value": "white"}, "strokeDash": {"value": [1, 0]}
         }}
      ]
    },
    {
      "width": 417, "height": 260,
      "title": "B – Growth and maintenance respiration",
      "data": {"name": "B"},
      "resolve": {"axis": {"x": "independent", "y": "independent"}},
      "encoding": {
        "x": {"field": "t", "type": "quantitative", "scale": {"domain": [-1, 51], "nice": false, "zero": false}},
        "y": {"field": "v", "type": "quantitative", "scale": {"domain": [-0.2, 20], "nice": false, "zero": false}},
        "color": {"field": "case", "type": "nominal", "scale": {"domain": ["1", "2"], "range": ["#000000", "#8c8c8c"]}, "legend": null},
        "strokeDash": {"field": "var", "type": "nominal", "scale": {"domain": ["R_G", "R_M"], "range": [[8, 6], [1, 0]]}, "legend": {"orient": "none", "legendX": 14, "legendY": 7, "title": null, "labelFontStyle": "italic"}},
        "detail": {"field": "seg", "type": "nominal"}
      },
      "layer": [
        {"transform": [{"filter": "datum.case === '2'"}], "mark": {"type": "line", "clip": true},
         "encoding": {
           "x": {"field": "t", "type": "quantitative", "axis": {"title": "t (d)", "values": [0,2,4,6,8,10,12,14,16,18,20,22,24,26,28,30,32,34,36,38,40,42,44,46,48,50], "labelExpr": "datum.value % 10 === 0 ? datum.label : ''", "tickSize": {"condition": {"test": "datum.value % 10 === 0", "value": -7}, "value": -4}}},
           "y": {"field": "v", "type": "quantitative", "axis": {"title": "R_G, R_M (gC m⁻³ d⁻¹)", "values": [0,1,2,3,4,5,6,7,8,9,10,11,12,13,14,15,16,17,18,19,20], "labelExpr": "datum.value % 5 === 0 ? datum.label : ''", "tickSize": {"condition": {"test": "datum.value % 5 === 0", "value": -7}, "value": -4}}}
         }},
        {"transform": [{"filter": "datum.case === '1'"}], "mark": {"type": "line", "clip": true},
         "encoding": {"x": {"field": "t", "type": "quantitative", "axis": null}, "y": {"field": "v", "type": "quantitative", "axis": null}}},
        {"mark": {"type": "point", "opacity": 0},
         "encoding": {
           "x": {"field": "t", "type": "quantitative", "axis": {"orient": "top", "labels": false, "title": null, "values": [0,2,4,6,8,10,12,14,16,18,20,22,24,26,28,30,32,34,36,38,40,42,44,46,48,50], "tickSize": {"condition": {"test": "datum.value % 10 === 0", "value": -7}, "value": -4}}},
           "y": {"field": "v", "type": "quantitative", "axis": {"orient": "right", "labels": false, "title": null, "values": [0,1,2,3,4,5,6,7,8,9,10,11,12,13,14,15,16,17,18,19,20], "tickSize": {"condition": {"test": "datum.value % 5 === 0", "value": -7}, "value": -4}}},
           "color": {"value": "white"}, "strokeDash": {"value": [1, 0]}
         }}
      ]
    },
    {
      "width": 417, "height": 260,
      "title": "C – Active–dormant biomass transitions",
      "data": {"name": "C"},
      "resolve": {"axis": {"x": "independent", "y": "independent"}},
      "encoding": {
        "x": {"field": "t", "type": "quantitative", "scale": {"domain": [-1, 51], "nice": false, "zero": false}},
        "y": {"field": "v", "type": "quantitative", "scale": {"domain": [-0.3, 65], "nice": false, "zero": false}},
        "color": {"field": "case", "type": "nominal", "scale": {"domain": ["1", "2"], "range": ["#000000", "#8c8c8c"]}, "legend": null},
        "strokeDash": {"field": "var", "type": "nominal", "scale": {"domain": ["P_D→A", "P_A→D"], "range": [[8, 6], [1, 0]]}, "legend": {"orient": "none", "legendX": 14, "legendY": 9, "title": null, "labelFontStyle": "italic"}},
        "detail": {"field": "seg", "type": "nominal"}
      },
      "layer": [
        {"transform": [{"filter": "datum.case === '2'"}], "mark": {"type": "line", "clip": true},
         "encoding": {
           "x": {"field": "t", "type": "quantitative", "axis": {"title": "t (d)", "values": [0,2,4,6,8,10,12,14,16,18,20,22,24,26,28,30,32,34,36,38,40,42,44,46,48,50], "labelExpr": "datum.value % 10 === 0 ? datum.label : ''", "tickSize": {"condition": {"test": "datum.value % 10 === 0", "value": -7}, "value": -4}}},
           "y": {"field": "v", "type": "quantitative", "axis": {"title": "P_A→D, P_D→A (gC m⁻³ d⁻¹)", "values": [0,2,4,6,8,10,12,14,16,18,20,22,24,26,28,30,32,34,36,38,40,42,44,46,48,50,52,54,56,58,60,62,64], "labelExpr": "datum.value % 10 === 0 ? datum.label : ''", "tickSize": {"condition": {"test": "datum.value % 10 === 0", "value": -7}, "value": -4}}}
         }},
        {"transform": [{"filter": "datum.case === '1'"}], "mark": {"type": "line", "clip": true},
         "encoding": {"x": {"field": "t", "type": "quantitative", "axis": null}, "y": {"field": "v", "type": "quantitative", "axis": null}}},
        {"mark": {"type": "point", "opacity": 0},
         "encoding": {
           "x": {"field": "t", "type": "quantitative", "axis": {"orient": "top", "labels": false, "title": null, "values": [0,2,4,6,8,10,12,14,16,18,20,22,24,26,28,30,32,34,36,38,40,42,44,46,48,50], "tickSize": {"condition": {"test": "datum.value % 10 === 0", "value": -7}, "value": -4}}},
           "y": {"field": "v", "type": "quantitative", "axis": {"orient": "right", "labels": false, "title": null, "values": [0,2,4,6,8,10,12,14,16,18,20,22,24,26,28,30,32,34,36,38,40,42,44,46,48,50,52,54,56,58,60,62,64], "tickSize": {"condition": {"test": "datum.value % 10 === 0", "value": -7}, "value": -4}}},
           "color": {"value": "white"}, "strokeDash": {"value": [1, 0]}
         }}
      ]
    },
    {
      "width": 417, "height": 260,
      "title": "D – Osmolyte fluxes",
      "data": {"name": "D"},
      "resolve": {"axis": {"x": "independent", "y": "independent"}},
      "encoding": {
        "x": {"field": "t", "type": "quantitative", "scale": {"domain": [-1, 51], "nice": false, "zero": false}},
        "y": {"field": "v", "type": "quantitative", "scale": {"domain": [-0.6, 10], "nice": false, "zero": false}},
        "color": {"field": "case", "type": "nominal", "scale": {"domain": ["1", "2"], "range": ["#000000", "#8c8c8c"]}, "legend": null},
        "strokeDash": {"field": "var", "type": "nominal", "scale": {"domain": ["P_D→A C_O,D/C_B,D", "P_A→D C_O/C_B", "Π"], "range": [[2.5, 6], [8, 6], [1, 0]]}, "legend": {"orient": "none", "legendX": 13, "legendY": 36, "title": null, "labelFontStyle": "italic", "rowPadding": 8.5}},
        "detail": {"field": "seg", "type": "nominal"}
      },
      "layer": [
        {"mark": {"type": "line", "clip": true},
         "encoding": {
           "x": {"field": "t", "type": "quantitative", "axis": {"title": "t (d)", "values": [0,2,4,6,8,10,12,14,16,18,20,22,24,26,28,30,32,34,36,38,40,42,44,46,48,50], "labelExpr": "datum.value % 10 === 0 ? datum.label : ''", "tickSize": {"condition": {"test": "datum.value % 10 === 0", "value": -7}, "value": -4}}},
           "y": {"field": "v", "type": "quantitative", "axis": {"title": "Osmolyte fluxes (gC m⁻³ d⁻¹)", "values": [-0.5,0,0.5,1,1.5,2,2.5,3,3.5,4,4.5,5,5.5,6,6.5,7,7.5,8,8.5,9,9.5], "labelExpr": "datum.value % 2 === 0 ? format(datum.value, 'd') : ''", "tickSize": {"condition": {"test": "datum.value % 2 === 0", "value": -7}, "value": -4}}}
         }},
        {"mark": {"type": "point", "opacity": 0},
         "encoding": {
           "x": {"field": "t", "type": "quantitative", "axis": {"orient": "top", "labels": false, "title": null, "values": [0,2,4,6,8,10,12,14,16,18,20,22,24,26,28,30,32,34,36,38,40,42,44,46,48,50], "tickSize": {"condition": {"test": "datum.value % 10 === 0", "value": -7}, "value": -4}}},
           "y": {"field": "v", "type": "quantitative", "axis": {"orient": "right", "labels": false, "title": null, "values": [-0.5,0,0.5,1,1.5,2,2.5,3,3.5,4,4.5,5,5.5,6,6.5,7,7.5,8,8.5,9,9.5], "tickSize": {"condition": {"test": "datum.value % 2 === 0", "value": -7}, "value": -4}}},
           "color": {"value": "white"}, "strokeDash": {"value": [1, 0]}, "detail": {"value": "x"}
         }}
      ]
    }
  ],
  "columns": 2,
  "spacing": {"row": 26, "column": 50}
}
